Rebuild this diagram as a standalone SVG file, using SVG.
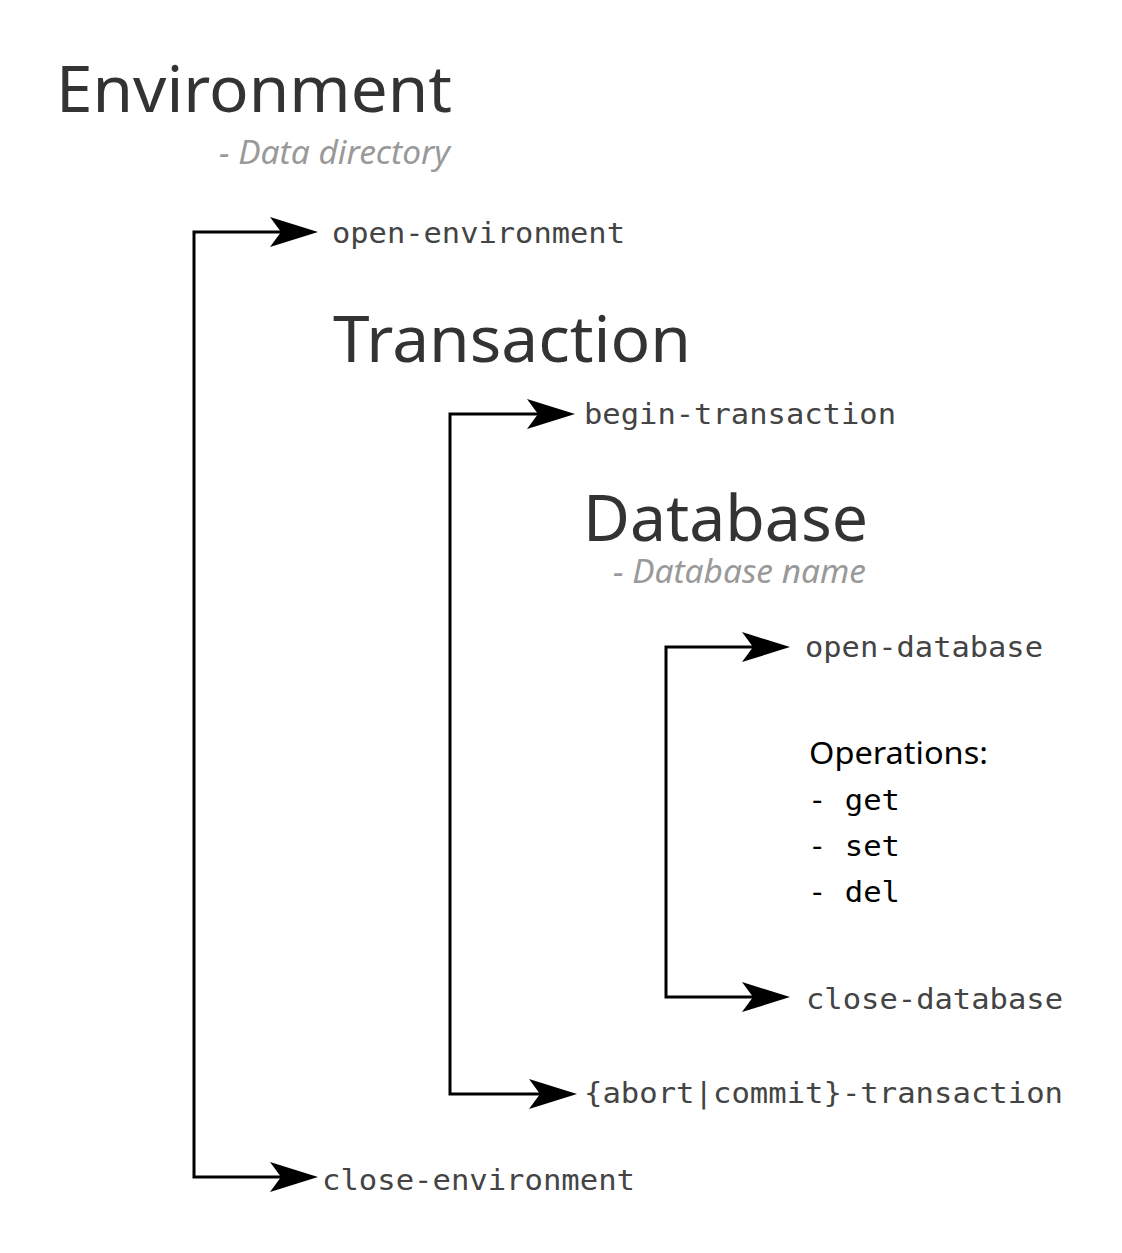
<svg xmlns="http://www.w3.org/2000/svg" width="1122" height="1253" viewBox="0 0 1122 1253">
<style>
.title{font-family:"Noto Sans","Open Sans",sans-serif;font-size:64px;fill:#333}
.sub{font-family:"Noto Sans","Open Sans",sans-serif;font-style:italic;font-size:33px;fill:#999}
.mono{font-family:"DejaVu Sans Mono","Liberation Mono",monospace;font-size:29px;fill:#444}
.ops{font-family:"DejaVu Sans Mono","Liberation Mono",monospace;font-size:29px;fill:#000}
.opsh{font-family:"Noto Sans","Open Sans",sans-serif;font-size:31px;fill:#000}
.conn{fill:none;stroke:#000;stroke-width:3}
</style>
<defs>
<marker id="ah" viewBox="0 0 48 30" refX="11" refY="15" markerWidth="48" markerHeight="30" markerUnits="userSpaceOnUse" orient="auto-start-reverse">
<path d="M0,0 L48,15 L0,30 L11,15 Z" fill="#000"/>
</marker>
</defs>
<rect width="1122" height="1253" fill="#fff"/>
<g id="connectors">
<path class="conn" d="M281,232 H194 V1177 H281" marker-start="url(#ah)" marker-end="url(#ah)"/>
<path class="conn" d="M538,414 H450 V1094 H540" marker-start="url(#ah)" marker-end="url(#ah)"/>
<path class="conn" d="M753,647 H666 V997 H753" marker-start="url(#ah)" marker-end="url(#ah)"/>
</g>
<g id="environment">
<text class="title" x="56" y="112" textLength="396" lengthAdjust="spacingAndGlyphs">Environment</text>
<text class="sub" x="219" y="164" textLength="231" lengthAdjust="spacingAndGlyphs">- Data directory</text>
</g>
<g id="open-environment">
<text class="mono" x="332" y="243" textLength="293" lengthAdjust="spacingAndGlyphs">open-environment</text>
</g>
<g id="transaction">
<text class="title" x="333" y="362" textLength="358" lengthAdjust="spacingAndGlyphs">Transaction</text>
</g>
<g id="begin-transaction">
<text class="mono" x="584" y="424" textLength="312" lengthAdjust="spacingAndGlyphs">begin-transaction</text>
</g>
<g id="database">
<text class="title" x="583" y="541" textLength="285" lengthAdjust="spacingAndGlyphs">Database</text>
<text class="sub" x="613" y="583" textLength="253" lengthAdjust="spacingAndGlyphs">- Database name</text>
</g>
<g id="open-database">
<text class="mono" x="805" y="657" textLength="238" lengthAdjust="spacingAndGlyphs">open-database</text>
</g>
<g id="operations">
<text class="opsh" x="809" y="764" textLength="179" lengthAdjust="spacingAndGlyphs">Operations:</text>
<text class="ops" x="808" y="810" textLength="92" lengthAdjust="spacingAndGlyphs">- get</text>
<text class="ops" x="808" y="856" textLength="92" lengthAdjust="spacingAndGlyphs">- set</text>
<text class="ops" x="808" y="902" textLength="92" lengthAdjust="spacingAndGlyphs">- del</text>
</g>
<g id="close-database">
<text class="mono" x="806" y="1009" textLength="257" lengthAdjust="spacingAndGlyphs">close-database</text>
</g>
<g id="end-transaction">
<text class="mono" x="584" y="1103" textLength="479" lengthAdjust="spacingAndGlyphs">{abort|commit}-transaction</text>
</g>
<g id="close-environment">
<text class="mono" x="322" y="1190" textLength="313" lengthAdjust="spacingAndGlyphs">close-environment</text>
</g>
</svg>
